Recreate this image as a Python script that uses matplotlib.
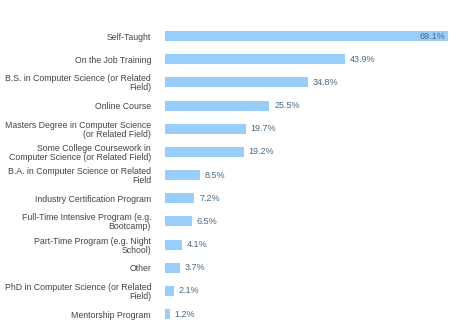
import matplotlib
matplotlib.use("Agg")
import matplotlib.pyplot as plt

categories = [
    "Self-Taught",
    "On the Job Training",
    "B.S. in Computer Science (or Related\nField)",
    "Online Course",
    "Masters Degree in Computer Science\n(or Related Field)",
    "Some College Coursework in\nComputer Science (or Related Field)",
    "B.A. in Computer Science or Related\nField",
    "Industry Certification Program",
    "Full-Time Intensive Program (e.g.\nBootcamp)",
    "Part-Time Program (e.g. Night\nSchool)",
    "Other",
    "PhD in Computer Science (or Related\nField)",
    "Mentorship Program",
]
values = [69.1, 43.9, 34.8, 25.5, 19.7, 19.2, 8.5, 7.2, 6.5, 4.1, 3.7, 2.1, 1.2]

plt.rcParams['font.family'] = ['Liberation Sans', 'DejaVu Sans']

fig = plt.figure(figsize=(4.74, 3.35), dpi=100)
ax = fig.add_axes([165 / 474, 0.028, (448 - 165) / 474, 0.899])

ypos = list(range(len(values)))
bars = ax.barh(ypos, values, height=0.43, color="#99cdfa")
ax.set_ylim(len(values) - 0.5, -0.5)
ax.set_xlim(0, max(values))

ax.set_yticks(ypos)
ax.set_yticklabels(categories, fontsize=6.3, color="#444444", linespacing=1.0)
ax.tick_params(axis="y", length=0, pad=10)
ax.set_xticks([])
for s in ax.spines.values():
    s.set_visible(False)

# value labels: inside the longest bar, outside the rest
for i, v in enumerate(values):
    label = f"{v}%"
    if v > 60:
        ax.annotate(label, (v, i), xytext=(-2, 0), textcoords="offset points",
                    ha="right", va="center", fontsize=6.5, color="#4a6785")
    else:
        ax.annotate(label, (v, i), xytext=(3.5, 0), textcoords="offset points",
                    ha="left", va="center", fontsize=6.5, color="#4a6785")

fig.savefig("out.png", dpi=100)
